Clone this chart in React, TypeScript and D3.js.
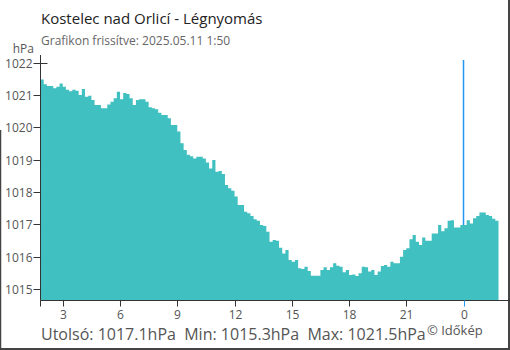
import * as d3 from "d3";

// 10-minute readings from 1:50 the previous day
const startHour = 1 + 50 / 60;
const stepHours = 1 / 6;
const pressure = [
  1021.48, 1021.33, 1021.28, 1021.28, 1021.21, 1021.26, 1021.36, 1021.26, 1021.16, 1021.12,
  1021.16, 1021.13, 1021.0, 1021.19, 1020.95, 1020.98, 1020.85, 1020.69, 1020.69, 1020.59,
  1020.59, 1020.71, 1020.79, 1020.9, 1021.1, 1020.87, 1021.06, 1021.03, 1020.9, 1020.69,
  1020.85, 1020.87, 1020.87, 1020.79, 1020.62, 1020.59, 1020.56, 1020.45, 1020.38, 1020.38,
  1020.28, 1020.07, 1020.07, 1019.87, 1019.51, 1019.3, 1019.15, 1019.11, 1019.04, 1019.09,
  1019.09, 1019.04, 1018.91, 1018.73, 1018.99, 1018.63, 1018.65, 1018.56, 1018.22, 1018.12,
  1018.04, 1017.86, 1017.6, 1017.6, 1017.39, 1017.34, 1017.26, 1017.16, 1017.11, 1016.98,
  1016.95, 1016.77, 1016.46, 1016.52, 1016.49, 1016.28, 1016.1, 1016.21, 1015.9, 1015.84,
  1015.9, 1015.64, 1015.62, 1015.69, 1015.56, 1015.41, 1015.41, 1015.41, 1015.59, 1015.67,
  1015.59, 1015.67, 1015.8, 1015.72, 1015.69, 1015.52, 1015.59, 1015.43, 1015.45, 1015.4,
  1015.49, 1015.69, 1015.67, 1015.54, 1015.59, 1015.43, 1015.54, 1015.71, 1015.74, 1015.69,
  1015.84, 1015.8, 1015.8, 1016.0, 1016.21, 1016.26, 1016.54, 1016.67, 1016.46, 1016.36,
  1016.59, 1016.49, 1016.49, 1016.72, 1016.72, 1016.98, 1016.79, 1016.88, 1017.11, 1017.13,
  1016.9, 1016.9, 1016.98, 1016.98, 1017.13, 1017.03, 1017.19, 1017.26, 1017.37, 1017.37,
  1017.29, 1017.26, 1017.17, 1017.11,
];
const yTicks = [1015, 1016, 1017, 1018, 1019, 1020, 1021, 1022];
const xTicks = [3, 6, 9, 12, 15, 18, 21, 24];
const midnight = 24;

const title = "Kostelec nad Orlicí - Légnyomás";
const subtitle = "Grafikon frissítve: 2025.05.11 1:50";
const footer = "Utolsó: 1017.1hPa  Min: 1015.3hPa  Max: 1021.5hPa";

const W = 510;
const H = 350;
const left = 40.5;
const bottom = 300.5;
const font = "'Open Sans', sans-serif";
const axisColor = "#333";
const labelColor = "#555";

export default function App() {
  const endHour = startHour + pressure.length * stepHours;
  const x = d3.scaleLinear([startHour, endHour], [left, 498.5]);
  const y = d3.scaleLinear([1014.645, 1022], [bottom, 62.7]);

  const pts: [number, number][] = pressure.map((v, i) => [startHour + i * stepHours, v]);
  pts.push([endHour, pressure[pressure.length - 1]]);

  const area = d3
    .area<[number, number]>()
    .x((d) => x(d[0]))
    .y0(bottom)
    .y1((d) => y(d[1]))
    .curve(d3.curveStepAfter);

  const lastAtMidnight = pressure[Math.round((midnight - startHour) / stepHours)];

  return (
    <svg
      width={W}
      height={H}
      style={{ position: "absolute", left: 0, top: 0, background: "#fff" }}
      fontFamily={font}
    >
      <line x1={W - 1} y1={0} x2={W - 1} y2={H} stroke="#444" strokeWidth={2} />
      <line x1={0} y1={H - 1} x2={W} y2={H - 1} stroke="#444" strokeWidth={2} />
      <line x1={0.5} y1={130} x2={0.5} y2={H} stroke="#444" strokeWidth={1.5} />

      <text x={41} y={24} fontSize={15} fill="#222">{title}</text>
      <text x={41} y={45} fontSize={12} fill="#666">{subtitle}</text>
      <text x={34} y={53} fontSize={12} fill={labelColor} textAnchor="end">hPa</text>

      <path d={area(pts) ?? ""} fill="#40c0c0" />

      <line
        x1={x(midnight)}
        x2={x(midnight)}
        y1={60}
        y2={y(lastAtMidnight)}
        stroke="#2196f3"
        strokeWidth={1.5}
      />

      {/* y axis */}
      <line x1={left} x2={left} y1={55} y2={bottom} stroke={axisColor} />
      {yTicks.map((t) => (
        <g key={t} transform={`translate(0,${Math.round(y(t)) + 0.5})`}>
          <line x1={left - 7} x2={t === 1022 ? left + 7 : left} stroke={axisColor} />
          <text x={left - 8} dy="0.35em" fontSize={12} fill={labelColor} textAnchor="end">
            {t}
          </text>
        </g>
      ))}

      {/* x axis */}
      <line x1={left} x2={W} y1={bottom} y2={bottom} stroke={axisColor} />
      <line x1={left} x2={left} y1={bottom} y2={bottom + 6} stroke={axisColor} />
      {xTicks.map((t) => (
        <g key={t} transform={`translate(${Math.round(x(t)) + 0.5},${bottom})`}>
          <line y2={6} stroke={t === midnight ? "#2196f3" : axisColor} />
          <text y={18} fontSize={12} fill={labelColor} textAnchor="middle">
            {t % 24}
          </text>
        </g>
      ))}

      <text x={41} y={340} fontSize={16} fill={labelColor} style={{ whiteSpace: "pre" }}>
        {footer}
      </text>
      <text x={427} y={335} fontSize={13} fill={labelColor}>© Időkép</text>
    </svg>
  );
}
